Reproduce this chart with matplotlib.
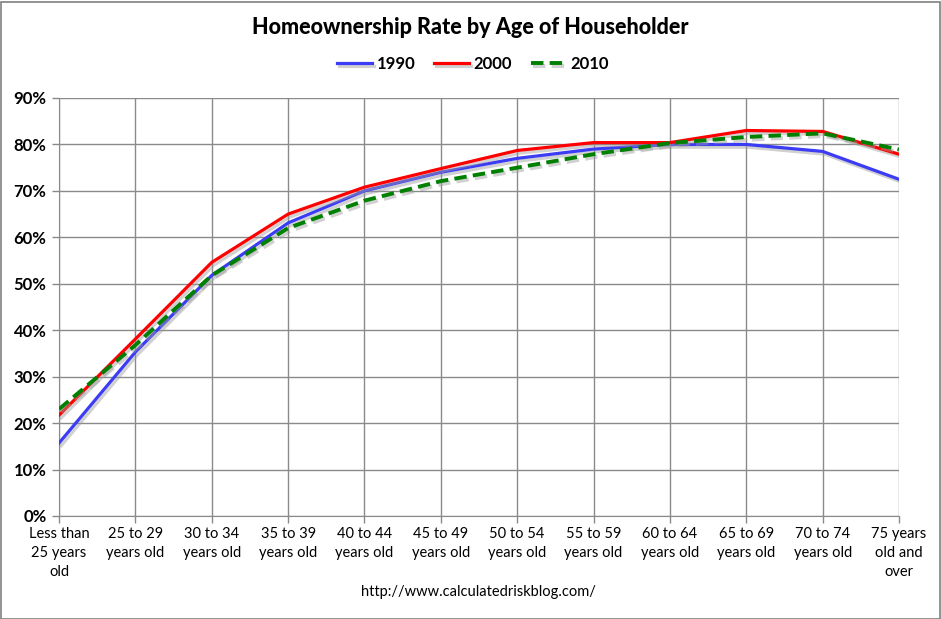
import matplotlib
matplotlib.use("Agg")
import matplotlib.pyplot as plt
import matplotlib.patheffects as pe
from matplotlib.patches import Rectangle
from matplotlib.ticker import FuncFormatter

categories = ["Less than\n25 years\nold", "25 to 29\nyears old", "30 to 34\nyears old",
              "35 to 39\nyears old", "40 to 44\nyears old", "45 to 49\nyears old",
              "50 to 54\nyears old", "55 to 59\nyears old", "60 to 64\nyears old",
              "65 to 69\nyears old", "70 to 74\nyears old", "75 years\nold and\nover"]
rate_1990 = [15.7, 35.3, 51.8, 63.1, 70.0, 74.0, 77.0, 79.0, 80.0, 80.0, 78.5, 72.5]
rate_2000 = [21.7, 38.1, 54.6, 65.0, 70.8, 74.8, 78.7, 80.4, 80.4, 83.0, 82.8, 77.9]
rate_2010 = [23.0, 36.8, 51.8, 62.0, 67.9, 72.1, 75.0, 77.9, 80.3, 81.6, 82.4, 78.9]
series_names = ["1990", "2000", "2010"]
yticks = list(range(0, 91, 10))

plt.rcParams['font.family'] = ['Lato', 'DejaVu Sans']

W, H = 941, 619
fig = plt.figure(figsize=(W / 100, H / 100), dpi=100)
fig.patches.append(Rectangle((0.5 / W, 0.5 / H), 1 - 2 / W, 1 - 2 / H, transform=fig.transFigure,
                             fill=False, edgecolor="#808080", linewidth=1.2))

left, right, top, bottom = 59, 899, 98, 516
ax = fig.add_axes([left / W, 1 - bottom / H, (right - left) / W, (bottom - top) / H])

x = list(range(len(categories)))
shadow = [pe.SimpleLineShadow(offset=(1.5, -2), shadow_color="#9a9a9a", alpha=0.45), pe.Normal()]
ax.plot(x, rate_1990, color="#3c3cf5", lw=2.3, label=series_names[0], path_effects=shadow,
        solid_joinstyle="miter", zorder=3)
ax.plot(x, rate_2000, color="#ff0000", lw=2.3, label=series_names[1], path_effects=shadow,
        solid_joinstyle="miter", zorder=4)
ax.plot(x, rate_2010, color="#008000", lw=2.8, label=series_names[2], path_effects=shadow,
        dashes=(3.2, 1.6), zorder=5)

ax.set_xlim(0, len(categories) - 1)
ax.set_ylim(0, 90)
ax.set_yticks(yticks)
ax.yaxis.set_major_formatter(FuncFormatter(lambda v, p: f"{int(v)}%"))
ax.set_xticks(x)
ax.set_xticklabels(categories, fontsize=10.5, linespacing=1.45)
for lab in ax.get_yticklabels():
    lab.set_fontweight("bold")
    lab.set_fontsize(12)
ax.grid(True, color="#8a8a8a", linewidth=1.0)
ax.set_axisbelow(True)
for s in ["top", "right"]:
    ax.spines[s].set_visible(False)
for s in ["left", "bottom"]:
    ax.spines[s].set_color("#8a8a8a")
ax.tick_params(axis="both", color="#8a8a8a", length=5, width=1)
ax.tick_params(axis="y", pad=4)
ax.tick_params(axis="x", pad=3)

fig.text(470 / W, 1 - 27 / H, "Homeownership Rate by Age of Householder", ha="center", va="center",
         fontsize=15.5, fontweight=900)
leg = fig.legend(loc="center", bbox_to_anchor=(473 / W, 1 - 64 / H), ncol=3, frameon=False,
                 prop={"weight": "bold", "size": 12}, handlelength=2.1, handletextpad=0.3,
                 columnspacing=1.1)
fig.text(478 / W, 1 - 592 / H, "http://www.calculatedriskblog.com/", ha="center", va="center",
         fontsize=10.5)

fig.savefig("out.png", dpi=100)
